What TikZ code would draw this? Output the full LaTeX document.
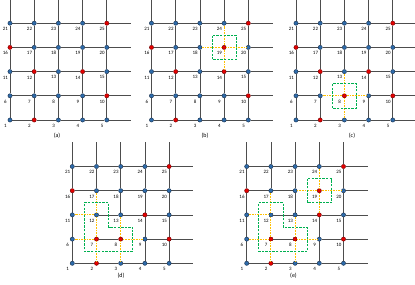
\documentclass[tikz,border=0pt]{standalone}
\usepackage{fontspec}
\setmainfont{Carlito}
\usetikzlibrary{backgrounds}
\definecolor{vxblue}{HTML}{2E6BAA}
\definecolor{vxedge}{HTML}{1B3350}
\definecolor{vxred}{HTML}{E50000}
\definecolor{cutylw}{HTML}{FFC000}
\definecolor{boxgrn}{HTML}{00B050}
\definecolor{meshgray}{HTML}{4D4D4D}

\begin{document}
\begin{tikzpicture}[x=1bp, y=1bp, font=\fontsize{5}{6}\selectfont,
          vx/.style={circle, draw=vxedge, fill=vxblue, line width=.45pt, inner sep=0pt, minimum size=4.2bp},
          hot/.style={vx, fill=vxred, draw=vxred!50!black},
          mesh/.style={meshgray, line width=.65pt},
          cut/.style={cutylw, line width=.9pt, dash pattern=on .8pt off .8pt, preaction={draw=white, solid, line width=1.6pt}},
          grp/.style={boxgrn, line width=.8pt, dash pattern=on 2.4pt off 1.2pt},
          num/.style={inner sep=0pt, text=black},
          subcap/.style={inner sep=0pt, font=\fontsize{6}{7}\selectfont}]
          \useasboundingbox (0,0) rectangle (415,285);
          \def\s{24.2}
          \def\h{12.1}
          \def\hota{2,10,12,14,16,25}
          \def\hotb{2,10,12,14,16,19,25}
          \def\hotc{2,8,10,12,14,16,25}
          \def\hotd{2,7,8,10,14,16,25}
          \def\hote{2,7,8,10,14,16,19,25}
          \foreach \p/\ox/\oy in {a/10/165, b/151.5/165, c/296/165, d/72.3/21.7, e/246.7/21.7} {
            \begin{scope}[shift={(\ox,\oy)}]
              \edef\hotlist{\csname hot\p\endcsname}
              \foreach \k in {1,...,25} {
                \gdef\vxsty{vx}
                \foreach \r in \hotlist {\ifnum\r=\k \gdef\vxsty{hot}\fi}
                \node[\vxsty] (\p\k) at ({mod(\k-1,5)*\s},{div(\k-1,5)*\s}) {};
                \node[num] (\p n\k) at ([shift={(-4.7,-5.8)}]\p\k.center) {\k};}
              \begin{scope}[on background layer]
                \foreach \k [evaluate=\k as \j using int(\k+1)] in {1,2,3,4,6,7,8,9,11,12,13,14,16,17,18,19,21,22,23,24}
                  \draw[mesh] (\p\k)--(\p\j);
                \foreach \k [evaluate=\k as \j using int(\k+5)] in {1,...,20} \draw[mesh] (\p\k)--(\p\j);
                \foreach \k in {5,10,15,20,25} \draw[mesh] (\p\k)--++(\s,0);
                \foreach \k in {21,...,25} \draw[mesh] (\p\k)--++(0,\s);
              \end{scope}
            \end{scope}}
          % cut edges
          \foreach \u/\v in {19/24,19/18,19/20,19/14} \draw[cut] (b\u)--(b\v);
          \foreach \u/\v in {8/13,8/7,8/9,8/3} \draw[cut] (c\u)--(c\v);
          \foreach \p in {d,e} \foreach \u/\v in {12/11,12/17,12/7,7/6,7/2,8/13,8/9,8/3} \draw[cut] (\p\u)--(\p\v);
          \foreach \u/\v in {19/24,19/18,19/20,19/14} \draw[cut] (e\u)--(e\v);
          % groups
          \foreach \p/\k in {b/19, c/8, e/19}
            \draw[grp] ([shift={(-\h,-\h)}]\p\k.center) rectangle ([shift={(\h,\h)}]\p\k.center);
          \foreach \p in {d,e}
            \draw[grp] ([shift={(-\h,\h)}]\p12.center) -- ([shift={(\h,\h)}]\p12.center) -- ([shift={(\h,-\h)}]\p12.center)
              -- ([shift={(\h,\h)}]\p8.center) -- ([shift={(\h,-\h)}]\p8.center) -- ([shift={(-\h,-\h)}]\p7.center) -- cycle;
          \node[subcap] (capa) at (57,149) {(a)};
          \node[subcap] (capb) at (205,149) {(b)};
          \node[subcap] (capc) at (352,149) {(c)};
          \node[subcap] (capd) at (121,9) {(d)};
          \node[subcap] (cape) at (293.5,9) {(e)};
        \end{tikzpicture}
\end{document}
